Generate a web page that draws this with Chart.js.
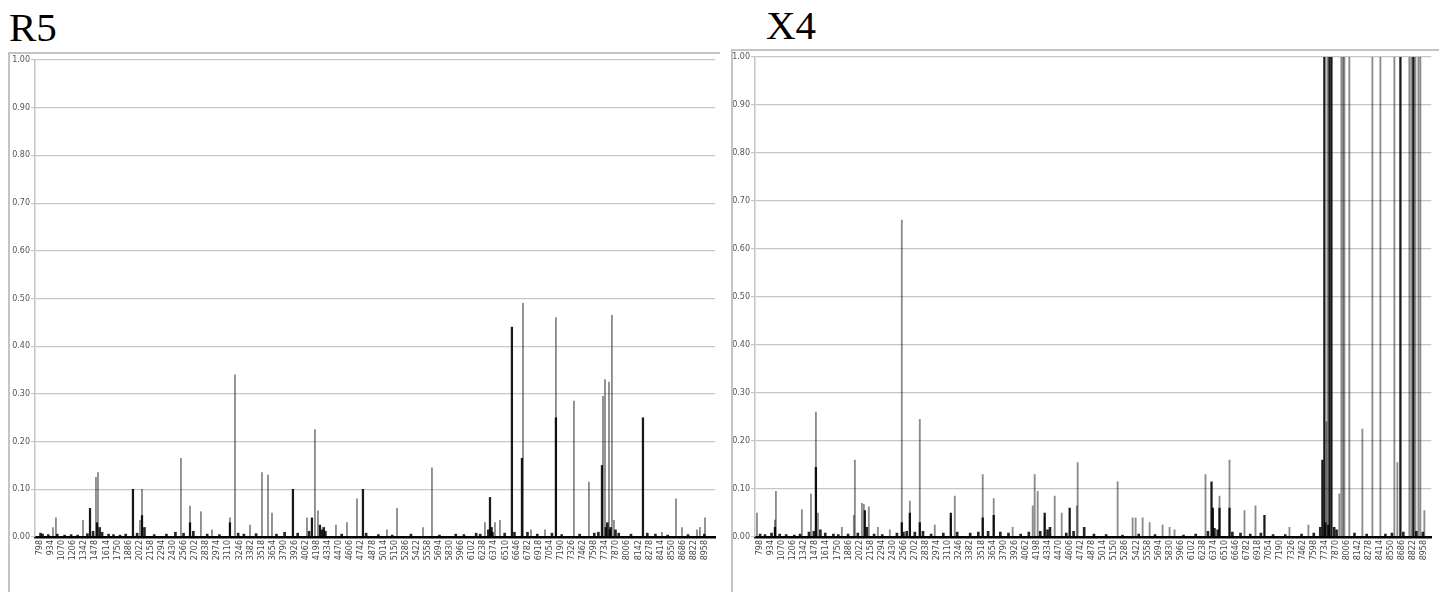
<!DOCTYPE html>
<html>
<head>
<meta charset="utf-8">
<script src="https://cdn.jsdelivr.net/npm/chart.js@4"></script>
<style>
  body { margin: 0; background: #fff; }
  #page { position: relative; width: 1443px; height: 592px; overflow: hidden; }
  .title { position: absolute; font-family: "Liberation Serif", serif; font-size: 41px; color: #000; line-height: 1; }
  .frame { position: absolute; border-top: 2px solid #c4c4c4; border-left: 2px solid #c4c4c4; }
  canvas { position: absolute; }
</style>
</head>
<body>
<div id="page">
  <div class="title" style="left:9px; top:7px;">R5</div>
  <div class="title" style="left:766px; top:5px;">X4</div>
  <div class="frame" style="left:8px; top:52px; width:710px; height:545px;"></div>
  <div class="frame" style="left:731px; top:49px; width:706px; height:548px;"></div>
  <canvas id="chartR5" width="708" height="538" style="left:10px; top:54px;"></canvas>
  <canvas id="chartX4" width="704" height="541" style="left:733px; top:51px;"></canvas>
</div>
<script>
// x axis tick labels (m/z)
const tickLabels = [798, 934, 1070, 1206, 1342, 1478, 1614, 1750, 1886, 2022, 2158, 2294, 2430, 2566,
  2702, 2838, 2974, 3110, 3246, 3382, 3518, 3654, 3790, 3926, 4062, 4198, 4334, 4470, 4606, 4742,
  4878, 5014, 5150, 5286, 5422, 5558, 5694, 5830, 5966, 6102, 6238, 6374, 6510, 6646, 6782, 6918,
  7054, 7190, 7326, 7462, 7598, 7734, 7870, 8006, 8142, 8278, 8414, 8550, 8686, 8822, 8958];
const yTicks = [0, 0.1, 0.2, 0.3, 0.4, 0.5, 0.6, 0.7, 0.8, 0.9, 1.0];

// R5 spikes
const r5LightMz = [958, 994, 1326, 1485, 1510, 2025, 2050, 2528, 2639, 2773, 2908, 3129, 3191, 3375,
  3522, 3596, 3645, 4074, 4172, 4209, 4430, 4565, 4688, 5056, 5179, 5498, 5608, 6258, 6381, 6442,
  6725, 6823, 6995, 7129, 7350, 7534, 7706, 7731, 7780, 7816, 7841, 8430, 8602, 8676, 8860, 8896, 8958];
const r5LightVal = [0.02, 0.04, 0.035, 0.125, 0.135, 0.035, 0.10, 0.165, 0.065, 0.053, 0.015, 0.04, 0.34, 0.025,
  0.135, 0.13, 0.05, 0.04, 0.225, 0.055, 0.025, 0.03, 0.08, 0.015, 0.06, 0.02, 0.145, 0.03, 0.03, 0.035,
  0.49, 0.015, 0.015, 0.46, 0.285, 0.115, 0.295, 0.33, 0.325, 0.465, 0.035, 0.01, 0.08, 0.02, 0.015, 0.02, 0.04];
const r5DarkMz = [1412, 1497, 1939, 2050, 2639, 3129, 3902, 4135, 4234, 4761,
  6320, 6340, 6589, 6712, 7129, 7694, 7740, 7790, 8197];
const r5DarkVal = [0.06, 0.03, 0.10, 0.045, 0.03, 0.03, 0.10, 0.04, 0.025, 0.10,
  0.083, 0.02, 0.44, 0.165, 0.25, 0.15, 0.02, 0.015, 0.25];
const r5NoiseMz = [805, 830, 900, 1010, 1100, 1180, 1260, 1380, 1450, 1530, 1560, 1640, 1700, 1780, 1850,
  1990, 2080, 2200, 2350, 2460, 2560, 2680, 2850, 3000, 3230, 3300, 3450, 3700, 3800, 3960, 4100,
  4260, 4280, 4300, 4500, 4800, 4950, 5120, 5350, 5700, 5900, 6000, 6150, 6200, 6300, 6350, 6500,
  6620, 6780, 6900, 7080, 7200, 7420, 7600, 7650, 7760, 7800, 7860, 7900, 8050, 8250, 8350, 8500,
  8750, 8950];
const r5NoiseVal = [0.008, 0.006, 0.005, 0.006, 0.004, 0.005, 0.004, 0.007, 0.012, 0.02, 0.01, 0.006, 0.005, 0.004, 0.006,
  0.008, 0.02, 0.005, 0.006, 0.01, 0.008, 0.012, 0.006, 0.005, 0.008, 0.006, 0.007, 0.006, 0.01, 0.008, 0.012,
  0.015, 0.02, 0.012, 0.006, 0.008, 0.005, 0.004, 0.006, 0.004, 0.006, 0.005, 0.008, 0.006, 0.015, 0.01, 0.008,
  0.01, 0.01, 0.006, 0.008, 0.005, 0.006, 0.008, 0.01, 0.03, 0.02, 0.015, 0.008, 0.006, 0.008, 0.006, 0.004,
  0.005, 0.006];

// X4 spikes
const x4LightMz = [761, 982, 994, 1313, 1424, 1485, 1510, 1804, 1951, 1964, 2050, 2074, 2135, 2246,
  2393, 2540, 2639, 2761, 2945, 3142, 3191, 3534, 3669, 3902, 4148, 4172, 4209, 4295, 4418, 4504,
  4690, 4700, 5191, 5375, 5412, 5498, 5584, 5743, 5829, 5890, 6270, 6442, 6565, 6749, 6884, 7301,
  7534, 7755, 7767, 7914, 7939, 7960, 7976, 8037, 8197, 8320, 8418, 8590, 8627, 8774, 8799, 8848,
  8885, 8909, 8958];
const x4LightVal = [0.05, 0.035, 0.095, 0.057, 0.09, 0.26, 0.05, 0.02, 0.045, 0.16, 0.07, 0.068, 0.063, 0.02,
  0.015, 0.66, 0.075, 0.245, 0.025, 0.04, 0.085, 0.13, 0.08, 0.02, 0.065, 0.13, 0.095, 0.04, 0.085, 0.05,
  0.065, 0.155, 0.115, 0.04, 0.04, 0.04, 0.03, 0.025, 0.02, 0.015, 0.13, 0.085, 0.16, 0.055, 0.065, 0.02,
  0.025, 0.24, 1, 0.09, 1, 1, 1, 1, 0.225, 1, 1, 1, 0.155, 1, 1, 1,
  1, 1, 0.055];
const x4DarkMz = [982, 1485, 2086, 2540, 2639, 2761, 3142, 3534, 3669, 4295, 4602, 6344, 6360, 6442,
  6565, 6994, 7706, 7730, 7792, 7817, 8664, 8823];
const x4DarkVal = [0.02, 0.145, 0.055, 0.03, 0.05, 0.03, 0.05, 0.04, 0.045, 0.05, 0.06, 0.115, 0.06, 0.06,
  0.06, 0.045, 0.16, 1, 1, 1, 1, 1];
const x4NoiseMz = [800, 860, 940, 1040, 1120, 1220, 1290, 1400, 1460, 1540, 1600, 1700, 1760, 1880,
  2000, 2110, 2200, 2300, 2480, 2560, 2600, 2700, 2800, 2900, 3050, 3220, 3380, 3480, 3600, 3750, 3850,
  4000, 4100, 4240, 4330, 4360, 4560, 4650, 4780, 4900, 5050, 5250, 5450, 5650, 6000, 6150, 6300, 6380,
  6420, 6600, 6700, 6820, 6950, 7100, 7250, 7450, 7600, 7680, 7740, 7780, 7850, 7880, 8100, 8250, 8480,
  8560, 8700, 8860, 8940];
const x4NoiseVal = [0.006, 0.005, 0.008, 0.006, 0.005, 0.004, 0.006, 0.01, 0.012, 0.015, 0.008, 0.006, 0.005, 0.006,
  0.008, 0.02, 0.006, 0.005, 0.008, 0.01, 0.012, 0.01, 0.012, 0.006, 0.008, 0.01, 0.008, 0.01, 0.012, 0.01, 0.008,
  0.006, 0.01, 0.012, 0.015, 0.02, 0.008, 0.012, 0.02, 0.006, 0.005, 0.004, 0.006, 0.005, 0.004, 0.006, 0.012, 0.018,
  0.015, 0.01, 0.008, 0.006, 0.008, 0.005, 0.005, 0.006, 0.008, 0.02, 0.03, 0.025, 0.02, 0.015, 0.008, 0.006, 0.006,
  0.008, 0.01, 0.012, 0.01];

function toPoints(mz, val) {
  return mz.map((m, i) => ({ x: m, y: val[i] }));
}

function makeChart(id, lightMz, lightVal, darkMz, darkVal, noiseMz, noiseVal, xMax, yWidth, pad) {
  const ctx = document.getElementById(id).getContext('2d');
  return new Chart(ctx, {
    type: 'bar',
    data: {
      datasets: [
        {
          data: toPoints(lightMz, lightVal),
          backgroundColor: 'rgba(0, 0, 0, 0.45)',
          barThickness: 1.2,
          grouped: false
        },
        {
          data: toPoints(darkMz, darkVal),
          backgroundColor: 'rgba(0, 0, 0, 0.9)',
          barThickness: 1.6,
          grouped: false
        },
        {
          data: toPoints(noiseMz, noiseVal),
          backgroundColor: 'rgba(0, 0, 0, 0.85)',
          barThickness: 2,
          grouped: false
        }
      ]
    },
    options: {
      responsive: false,
      animation: false,
      layout: { padding: pad },
      plugins: { legend: { display: false }, tooltip: { enabled: false } },
      scales: {
        x: {
          type: 'linear',
          min: 737,
          max: xMax,
          offset: false,
          afterBuildTicks: axis => { axis.ticks = tickLabels.map(v => ({ value: v })); },
          afterFit: axis => { axis.height = 55; },
          grid: { display: false, drawTicks: false },
          border: { color: '#000', width: 2.5 },
          ticks: {
            autoSkip: false,
            minRotation: 90,
            maxRotation: 90,
            padding: 3,
            color: '#444',
            font: { family: 'DejaVu Sans', size: 8 },
            callback: v => String(v)
          }
        },
        y: {
          min: 0,
          max: 1,
          afterBuildTicks: axis => { axis.ticks = yTicks.map(v => ({ value: v })); },
          afterFit: axis => { axis.width = yWidth; },
          grid: { color: '#c6c6c6', lineWidth: 1.2, tickLength: 4 },
          border: { color: '#c6c6c6', width: 1.5 },
          ticks: {
            padding: 1,
            color: '#555',
            font: { family: 'DejaVu Sans', size: 8 },
            callback: v => v.toFixed(2)
          }
        }
      }
    }
  });
}

document.addEventListener('DOMContentLoaded', function () {
  makeChart('chartR5', r5LightMz, r5LightVal, r5DarkMz, r5DarkVal, r5NoiseMz, r5NoiseVal,
    9081, 25, { top: 6, right: 3, left: 0, bottom: 0 });
  makeChart('chartX4', x4LightMz, x4LightVal, x4DarkMz, x4DarkVal, x4NoiseMz, x4NoiseVal,
    9044, 22, { top: 6, right: 5, left: 0, bottom: 0 });
});
</script>
</body>
</html>
